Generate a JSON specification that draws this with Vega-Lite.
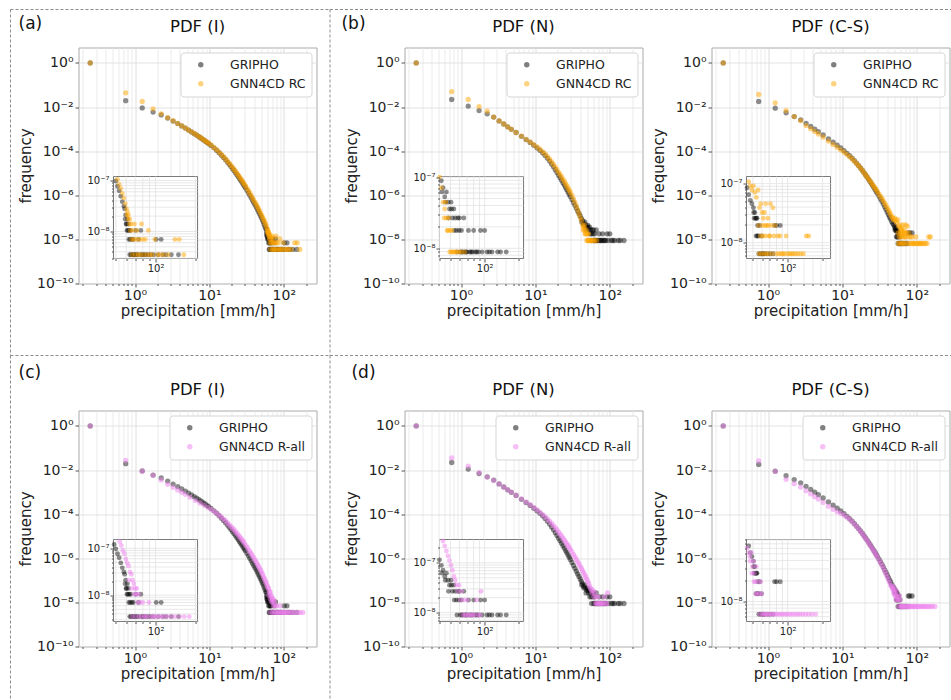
{
"$schema": "https://vega.github.io/schema/vega-lite/v6.json",
"padding": {"left": 8.5, "top": 8.5, "right": 0, "bottom": 0},
"background": "white",
"config": {
  "font": "DejaVu Sans",
  "view": {"stroke": "#aaaaaa", "strokeWidth": 1},
  "axis": {"labelFont": "DejaVu Sans", "titleFont": "DejaVu Sans", "labelColor": "#222", "titleColor": "#222", "titleFontWeight": "normal", "tickColor": "#555", "domain": false, "gridWidth": 0.8},
  "legend": {"labelFont": "DejaVu Sans", "labelFontSize": 12.5, "labelColor": "#222", "symbolType": "circle", "symbolSize": 30, "symbolOpacity": 0.5, "symbolStrokeWidth": 0, "strokeColor": "#d5d5d5", "fillColor": "white", "cornerRadius": 3, "padding": 6, "rowPadding": 6, "offset": 5, "labelOffset": 23, "symbolOffset": 8},
  "title": {"font": "DejaVu Sans", "fontSize": 16.5, "fontWeight": "normal", "color": "#111", "frame": "group"}
},
"datasets": {
"GI": [{"x":0.25,"y":1},{"x":0.75,"y":0.0195},{"x":1.25,"y":0.0091},{"x":1.75,"y":0.0059},{"x":2.25,"y":0.0044},{"x":2.75,"y":0.00316},{"x":3.25,"y":0.00232},{"x":3.75,"y":0.00177},{"x":4.25,"y":0.00139},{"x":4.75,"y":0.00111},{"x":5.25,"y":9.0e-4},{"x":5.75,"y":7.4e-4},{"x":6.25,"y":6.2e-4},{"x":6.75,"y":5.3e-4},{"x":7.25,"y":4.5e-4},{"x":7.75,"y":3.85e-4},{"x":8.25,"y":3.33e-4},{"x":8.75,"y":2.88e-4},{"x":9.25,"y":2.52e-4},{"x":9.75,"y":2.2e-4},{"x":10.5,"y":1.82e-4},{"x":11.5,"y":1.41e-4},{"x":12.5,"y":1.1e-4},{"x":13.5,"y":8.5e-5},{"x":14.5,"y":6.6e-5},{"x":15.5,"y":5.2e-5},{"x":16.5,"y":4.1e-5},{"x":17.5,"y":3.2e-5},{"x":18.5,"y":2.53e-5},{"x":19.5,"y":2.01e-5},{"x":20.5,"y":1.6e-5},{"x":21.5,"y":1.3e-5},{"x":22.5,"y":1.04e-5},{"x":23.5,"y":8.5e-6},{"x":24.5,"y":6.9e-6},{"x":25.5,"y":5.6e-6},{"x":26.5,"y":4.66e-6},{"x":27.5,"y":3.85e-6},{"x":28.5,"y":3.16e-6},{"x":29.5,"y":2.62e-6},{"x":30.5,"y":2.2e-6},{"x":32,"y":1.67e-6},{"x":33.5,"y":1.29e-6},{"x":35,"y":9.9e-7},{"x":36.5,"y":7.7e-7},{"x":38,"y":6.0e-7},{"x":39.5,"y":4.7e-7},{"x":41,"y":3.74e-7},{"x":42.5,"y":3.0e-7},{"x":44,"y":2.4e-7},{"x":45.5,"y":1.9e-7},{"x":47,"y":1.52e-7},{"x":48.5,"y":1.21e-7},{"x":50,"y":9.8e-8},{"x":51.5,"y":7.7e-8},{"x":53,"y":6.3e-8},{"x":54.5,"y":4.9e-8},{"x":56,"y":3.85e-8},{"x":57.5,"y":3.15e-8},{"x":58.25,"y":2.8e-8},{"x":58.75,"y":1.75e-8},{"x":59.25,"y":2.1e-8},{"x":59.75,"y":1.4e-8},{"x":60.25,"y":1.4e-8},{"x":60.75,"y":1.05e-8},{"x":61.25,"y":1.75e-8},{"x":61.75,"y":1.05e-8},{"x":62.25,"y":1.4e-8},{"x":62.75,"y":7e-9},{"x":63.25,"y":1.05e-8},{"x":63.75,"y":3.5e-9},{"x":64.25,"y":7e-9},{"x":64.75,"y":1.05e-8},{"x":65.25,"y":3.5e-9},{"x":66.25,"y":7e-9},{"x":66.75,"y":3.5e-9},{"x":67.75,"y":7e-9},{"x":68.25,"y":3.5e-9},{"x":69.75,"y":3.5e-9},{"x":70.75,"y":1.05e-8},{"x":71.25,"y":3.5e-9},{"x":72.75,"y":3.5e-9},{"x":74.25,"y":7e-9},{"x":75.75,"y":3.5e-9},{"x":77.25,"y":1.05e-8},{"x":78.75,"y":3.5e-9},{"x":80.25,"y":3.5e-9},{"x":82.75,"y":3.5e-9},{"x":85.25,"y":3.5e-9},{"x":88.75,"y":3.5e-9},{"x":92.25,"y":3.5e-9},{"x":96.75,"y":3.5e-9},{"x":101.25,"y":7e-9},{"x":104.75,"y":3.5e-9},{"x":110.25,"y":7e-9},{"x":113.75,"y":3.5e-9},{"x":120.25,"y":3.5e-9},{"x":131.75,"y":3.5e-9},{"x":149.25,"y":3.5e-9}],
"RCI": [{"x":0.25,"y":1},{"x":0.75,"y":0.044},{"x":1.25,"y":0.0178},{"x":1.75,"y":0.0083},{"x":2.25,"y":0.0049},{"x":2.75,"y":0.0033},{"x":3.25,"y":0.0024},{"x":3.75,"y":0.0018},{"x":4.25,"y":0.0014},{"x":4.75,"y":0.00112},{"x":5.25,"y":9.1e-4},{"x":5.75,"y":7.5e-4},{"x":6.25,"y":6.3e-4},{"x":6.75,"y":5.4e-4},{"x":7.25,"y":4.6e-4},{"x":7.75,"y":3.95e-4},{"x":8.25,"y":3.4e-4},{"x":8.75,"y":2.95e-4},{"x":9.25,"y":2.6e-4},{"x":9.75,"y":2.28e-4},{"x":10.5,"y":1.9e-4},{"x":11.5,"y":1.48e-4},{"x":12.5,"y":1.16e-4},{"x":13.5,"y":9.1e-5},{"x":14.5,"y":7.1e-5},{"x":15.5,"y":5.6e-5},{"x":16.5,"y":4.45e-5},{"x":17.5,"y":3.5e-5},{"x":18.5,"y":2.8e-5},{"x":19.5,"y":2.25e-5},{"x":20.5,"y":1.8e-5},{"x":21.5,"y":1.48e-5},{"x":22.5,"y":1.2e-5},{"x":23.5,"y":9.8e-6},{"x":24.5,"y":8.0e-6},{"x":25.5,"y":6.6e-6},{"x":26.5,"y":5.5e-6},{"x":27.5,"y":4.6e-6},{"x":28.5,"y":3.8e-6},{"x":29.5,"y":3.15e-6},{"x":30.5,"y":2.65e-6},{"x":32,"y":2.05e-6},{"x":33.5,"y":1.6e-6},{"x":35,"y":1.24e-6},{"x":36.5,"y":9.7e-7},{"x":38,"y":7.6e-7},{"x":39.5,"y":6.0e-7},{"x":41,"y":4.8e-7},{"x":42.5,"y":3.85e-7},{"x":44,"y":3.1e-7},{"x":45.5,"y":2.5e-7},{"x":47,"y":2.0e-7},{"x":48.5,"y":1.6e-7},{"x":50,"y":1.3e-7},{"x":51.5,"y":1.05e-7},{"x":53,"y":8.4e-8},{"x":54.5,"y":7e-8},{"x":56,"y":5.6e-8},{"x":57.5,"y":4.55e-8},{"x":59,"y":3.5e-8},{"x":60.25,"y":2.8e-8},{"x":60.75,"y":2.1e-8},{"x":61.25,"y":2.45e-8},{"x":61.75,"y":1.75e-8},{"x":62.25,"y":2.1e-8},{"x":63.25,"y":1.4e-8},{"x":63.75,"y":1.75e-8},{"x":64.25,"y":1.05e-8},{"x":65.25,"y":1.4e-8},{"x":65.75,"y":7e-9},{"x":66.25,"y":3.5e-9},{"x":67.25,"y":1.05e-8},{"x":68.25,"y":7e-9},{"x":69.25,"y":1.4e-8},{"x":70.25,"y":3.5e-9},{"x":71.75,"y":7e-9},{"x":72.25,"y":1.05e-8},{"x":73.75,"y":3.5e-9},{"x":75.25,"y":7e-9},{"x":76.75,"y":3.5e-9},{"x":78.25,"y":1.4e-8},{"x":79.75,"y":7e-9},{"x":81.25,"y":3.5e-9},{"x":83.75,"y":7e-9},{"x":86.25,"y":3.5e-9},{"x":88.25,"y":1.05e-8},{"x":90.75,"y":3.5e-9},{"x":94.25,"y":3.5e-9},{"x":98.75,"y":7e-9},{"x":103.25,"y":3.5e-9},{"x":108.75,"y":3.5e-9},{"x":115.25,"y":3.5e-9},{"x":124.75,"y":3.5e-9},{"x":140.25,"y":7e-9},{"x":151.25,"y":7e-9},{"x":163.75,"y":3.5e-9}],
"RAI": [{"x":0.25,"y":1},{"x":0.75,"y":0.0275},{"x":1.25,"y":0.0089},{"x":1.75,"y":0.00575},{"x":2.25,"y":0.00355},{"x":2.75,"y":0.00224},{"x":3.25,"y":0.00165},{"x":3.75,"y":0.00126},{"x":4.25,"y":9.9e-4},{"x":4.75,"y":7.9e-4},{"x":5.5,"y":5.9e-4},{"x":6.5,"y":4.2e-4},{"x":7.5,"y":3.2e-4},{"x":8.5,"y":2.5e-4},{"x":9.5,"y":2.03e-4},{"x":10.5,"y":1.66e-4},{"x":11.5,"y":1.35e-4},{"x":12.5,"y":1.11e-4},{"x":13.5,"y":9.0e-5},{"x":14.5,"y":7.3e-5},{"x":15.5,"y":6.0e-5},{"x":16.5,"y":5.0e-5},{"x":17.5,"y":4.0e-5},{"x":18.5,"y":3.3e-5},{"x":19.5,"y":2.73e-5},{"x":20.5,"y":2.27e-5},{"x":21.5,"y":1.91e-5},{"x":22.5,"y":1.58e-5},{"x":23.5,"y":1.33e-5},{"x":24.5,"y":1.12e-5},{"x":25.5,"y":9.4e-6},{"x":26.5,"y":8.0e-6},{"x":27.5,"y":6.8e-6},{"x":28.5,"y":5.75e-6},{"x":29.5,"y":4.9e-6},{"x":31,"y":3.7e-6},{"x":32.5,"y":3.0e-6},{"x":34,"y":2.26e-6},{"x":35.5,"y":1.87e-6},{"x":37,"y":1.5e-6},{"x":38.5,"y":1.18e-6},{"x":40,"y":9.6e-7},{"x":41.5,"y":7.9e-7},{"x":43,"y":6.3e-7},{"x":44.5,"y":5.2e-7},{"x":46,"y":4.2e-7},{"x":47.5,"y":3.4e-7},{"x":49,"y":2.8e-7},{"x":50.5,"y":2.25e-7},{"x":52,"y":1.8e-7},{"x":53.5,"y":1.4e-7},{"x":55,"y":1.15e-7},{"x":56.5,"y":9.1e-8},{"x":58,"y":7.7e-8},{"x":59.5,"y":5.95e-8},{"x":61,"y":4.9e-8},{"x":62.5,"y":4.2e-8},{"x":64,"y":3.15e-8},{"x":65.5,"y":2.8e-8},{"x":67,"y":2.1e-8},{"x":68.5,"y":1.75e-8},{"x":70,"y":1.4e-8},{"x":71.5,"y":1.05e-8},{"x":73,"y":7e-9},{"x":74.5,"y":1.05e-8},{"x":76,"y":7e-9},{"x":78,"y":3.5e-9},{"x":80,"y":7e-9},{"x":82,"y":3.5e-9},{"x":84,"y":3.5e-9},{"x":86.5,"y":3.5e-9},{"x":89,"y":7e-9},{"x":92,"y":3.5e-9},{"x":95,"y":3.5e-9},{"x":98,"y":3.5e-9},{"x":102,"y":3.5e-9},{"x":106,"y":3.5e-9},{"x":111,"y":3.5e-9},{"x":116,"y":3.5e-9},{"x":122,"y":3.5e-9},{"x":130,"y":3.5e-9},{"x":140,"y":3.5e-9},{"x":152,"y":3.5e-9},{"x":165,"y":3.5e-9},{"x":180,"y":3.5e-9},{"x":63,"y":2.1e-8},{"x":66,"y":1.4e-8},{"x":69,"y":1.05e-8},{"x":72,"y":1.4e-8},{"x":75,"y":3.5e-9},{"x":70.5,"y":3.5e-9},{"x":66.5,"y":3.5e-9}],
"GN": [{"x":0.25,"y":1},{"x":0.75,"y":0.022},{"x":1.25,"y":0.011},{"x":1.75,"y":0.0069},{"x":2.25,"y":0.0049},{"x":2.75,"y":0.0035},{"x":3.25,"y":0.00235},{"x":3.75,"y":0.0017},{"x":4.25,"y":0.00127},{"x":4.75,"y":9.8e-4},{"x":5.5,"y":7.0e-4},{"x":6.5,"y":4.7e-4},{"x":7.5,"y":3.36e-4},{"x":8.5,"y":2.48e-4},{"x":9.5,"y":1.86e-4},{"x":10.5,"y":1.42e-4},{"x":11.5,"y":1.09e-4},{"x":12.5,"y":8.4e-5},{"x":13.5,"y":6.4e-5},{"x":14.5,"y":4.8e-5},{"x":15.5,"y":3.56e-5},{"x":16.5,"y":2.64e-5},{"x":17.5,"y":1.94e-5},{"x":18.5,"y":1.45e-5},{"x":19.5,"y":1.08e-5},{"x":20.5,"y":8.1e-6},{"x":21.5,"y":6.3e-6},{"x":22.5,"y":4.8e-6},{"x":23.5,"y":3.7e-6},{"x":24.5,"y":2.9e-6},{"x":25.5,"y":2.24e-6},{"x":26.5,"y":1.79e-6},{"x":27.5,"y":1.42e-6},{"x":28.5,"y":1.12e-6},{"x":29.5,"y":8.9e-7},{"x":31,"y":6.5e-7},{"x":32.5,"y":4.7e-7},{"x":34,"y":3.5e-7},{"x":35.5,"y":2.6e-7},{"x":37,"y":1.95e-7},{"x":38.5,"y":1.5e-7},{"x":40,"y":1.15e-7},{"x":41.5,"y":8.9e-8},{"x":43,"y":7.1e-8},{"x":44.5,"y":5.3e-8},{"x":46,"y":6.2e-8},{"x":47.5,"y":4.45e-8},{"x":49,"y":3.56e-8},{"x":50.5,"y":4.45e-8},{"x":52,"y":2.67e-8},{"x":53.5,"y":3.56e-8},{"x":55,"y":2.67e-8},{"x":56.5,"y":1.78e-8},{"x":58,"y":2.67e-8},{"x":59.5,"y":1.78e-8},{"x":61,"y":8.9e-9},{"x":62.5,"y":1.78e-8},{"x":64,"y":8.9e-9},{"x":65.5,"y":2.67e-8},{"x":67,"y":8.9e-9},{"x":68.5,"y":8.9e-9},{"x":70,"y":8.9e-9},{"x":72,"y":1.78e-8},{"x":74,"y":8.9e-9},{"x":76,"y":8.9e-9},{"x":78,"y":8.9e-9},{"x":80,"y":1.78e-8},{"x":82.5,"y":8.9e-9},{"x":85,"y":8.9e-9},{"x":88,"y":8.9e-9},{"x":92,"y":1.78e-8},{"x":95,"y":8.9e-9},{"x":100,"y":1.78e-8},{"x":105,"y":8.9e-9},{"x":110,"y":8.9e-9},{"x":116,"y":8.9e-9},{"x":130,"y":8.9e-9},{"x":138,"y":8.9e-9},{"x":155,"y":8.9e-9},{"x":42,"y":6.2e-8},{"x":45,"y":4.45e-8},{"x":48,"y":2.67e-8},{"x":51,"y":3.56e-8},{"x":54,"y":1.78e-8},{"x":57,"y":8.9e-9},{"x":60,"y":2.67e-8},{"x":63,"y":8.9e-9}],
"RCN": [{"x":0.25,"y":1},{"x":0.75,"y":0.05},{"x":1.25,"y":0.022},{"x":1.75,"y":0.0105},{"x":2.25,"y":0.0065},{"x":2.75,"y":0.0035},{"x":3.25,"y":0.00235},{"x":3.75,"y":0.0017},{"x":4.25,"y":0.00127},{"x":4.75,"y":9.8e-4},{"x":5.5,"y":7.0e-4},{"x":6.5,"y":4.8e-4},{"x":7.5,"y":3.45e-4},{"x":8.5,"y":2.6e-4},{"x":9.5,"y":1.98e-4},{"x":10.5,"y":1.55e-4},{"x":11.5,"y":1.22e-4},{"x":12.5,"y":9.6e-5},{"x":13.5,"y":7.5e-5},{"x":14.5,"y":5.7e-5},{"x":15.5,"y":4.3e-5},{"x":16.5,"y":3.3e-5},{"x":17.5,"y":2.5e-5},{"x":18.5,"y":1.9e-5},{"x":19.5,"y":1.45e-5},{"x":20.5,"y":1.1e-5},{"x":21.5,"y":8.7e-6},{"x":22.5,"y":6.8e-6},{"x":23.5,"y":5.3e-6},{"x":24.5,"y":4.2e-6},{"x":25.5,"y":3.3e-6},{"x":26.5,"y":2.65e-6},{"x":27.5,"y":2.1e-6},{"x":28.5,"y":1.7e-6},{"x":29.5,"y":1.35e-6},{"x":31,"y":9.8e-7},{"x":32.5,"y":6.9e-7},{"x":34,"y":4.8e-7},{"x":35.5,"y":3.3e-7},{"x":37,"y":2.25e-7},{"x":38.5,"y":1.5e-7},{"x":40,"y":1.0e-7},{"x":41.5,"y":7.1e-8},{"x":43,"y":4.45e-8},{"x":44,"y":2.67e-8},{"x":44.5,"y":3.56e-8},{"x":45.5,"y":4.45e-8},{"x":46,"y":2.67e-8},{"x":46.75,"y":1.78e-8},{"x":47.5,"y":1.78e-8},{"x":48.25,"y":2.67e-8},{"x":49.25,"y":8.9e-9},{"x":49.75,"y":1.78e-8},{"x":50.75,"y":8.9e-9},{"x":51.5,"y":1.78e-8},{"x":52.25,"y":8.9e-9},{"x":53.75,"y":8.9e-9},{"x":55.25,"y":8.9e-9},{"x":57.25,"y":8.9e-9},{"x":59.75,"y":8.9e-9},{"x":62.25,"y":8.9e-9},{"x":66.75,"y":8.9e-9}],
"RAN": [{"x":0.25,"y":1},{"x":0.75,"y":0.0355},{"x":1.25,"y":0.015},{"x":1.75,"y":0.0076},{"x":2.25,"y":0.0048},{"x":2.75,"y":0.0034},{"x":3.25,"y":0.00235},{"x":3.75,"y":0.0017},{"x":4.25,"y":0.00128},{"x":4.75,"y":0.001},{"x":5.5,"y":7.2e-4},{"x":6.5,"y":4.95e-4},{"x":7.5,"y":3.6e-4},{"x":8.5,"y":2.7e-4},{"x":9.5,"y":2.04e-4},{"x":10.5,"y":1.58e-4},{"x":11.5,"y":1.23e-4},{"x":12.5,"y":9.7e-5},{"x":13.5,"y":7.7e-5},{"x":14.5,"y":6.05e-5},{"x":15.5,"y":4.8e-5},{"x":16.5,"y":3.8e-5},{"x":17.5,"y":3.0e-5},{"x":18.5,"y":2.4e-5},{"x":19.5,"y":1.92e-5},{"x":20.5,"y":1.53e-5},{"x":21.5,"y":1.24e-5},{"x":22.5,"y":1.0e-5},{"x":23.5,"y":8.1e-6},{"x":24.5,"y":6.6e-6},{"x":25.5,"y":5.4e-6},{"x":26.5,"y":4.45e-6},{"x":27.5,"y":3.7e-6},{"x":28.5,"y":3.0e-6},{"x":29.5,"y":2.5e-6},{"x":31,"y":1.92e-6},{"x":32.5,"y":1.46e-6},{"x":34,"y":1.14e-6},{"x":35.5,"y":8.9e-7},{"x":37,"y":6.9e-7},{"x":38.5,"y":5.5e-7},{"x":40,"y":4.3e-7},{"x":41.5,"y":3.45e-7},{"x":43,"y":2.75e-7},{"x":44.5,"y":2.2e-7},{"x":46,"y":1.73e-7},{"x":47.5,"y":1.38e-7},{"x":49,"y":1.11e-7},{"x":50.5,"y":8.9e-8},{"x":52,"y":7.1e-8},{"x":53.5,"y":5.3e-8},{"x":55,"y":4.45e-8},{"x":56.5,"y":3.56e-8},{"x":58,"y":2.67e-8},{"x":59.5,"y":3.56e-8},{"x":61,"y":1.78e-8},{"x":62.5,"y":2.67e-8},{"x":64,"y":8.9e-9},{"x":65.5,"y":1.78e-8},{"x":67,"y":8.9e-9},{"x":68.5,"y":8.9e-9},{"x":70,"y":1.78e-8},{"x":72,"y":8.9e-9},{"x":74,"y":8.9e-9},{"x":76.5,"y":8.9e-9},{"x":79,"y":8.9e-9},{"x":82,"y":8.9e-9},{"x":85,"y":1.78e-8},{"x":88,"y":8.9e-9},{"x":91,"y":8.9e-9},{"x":93,"y":2.67e-8}],
"GC": [{"x":0.25,"y":1},{"x":0.75,"y":0.0178},{"x":1.25,"y":0.0089},{"x":1.75,"y":0.0055},{"x":2.25,"y":0.0037},{"x":2.75,"y":0.00263},{"x":3.25,"y":0.00182},{"x":3.75,"y":0.00132},{"x":4.25,"y":9.9e-4},{"x":4.75,"y":7.6e-4},{"x":5.5,"y":5.4e-4},{"x":6.5,"y":3.6e-4},{"x":7.5,"y":2.55e-4},{"x":8.5,"y":1.87e-4},{"x":9.5,"y":1.4e-4},{"x":10.5,"y":1.06e-4},{"x":11.5,"y":8.0e-5},{"x":12.5,"y":6.2e-5},{"x":13.5,"y":4.8e-5},{"x":14.5,"y":3.7e-5},{"x":15.5,"y":2.86e-5},{"x":16.5,"y":2.23e-5},{"x":17.5,"y":1.73e-5},{"x":18.5,"y":1.36e-5},{"x":19.5,"y":1.06e-5},{"x":20.5,"y":8.3e-6},{"x":21.5,"y":6.7e-6},{"x":22.5,"y":5.3e-6},{"x":23.5,"y":4.2e-6},{"x":24.5,"y":3.4e-6},{"x":25.5,"y":2.74e-6},{"x":26.5,"y":2.24e-6},{"x":27.5,"y":1.83e-6},{"x":28.5,"y":1.49e-6},{"x":29.5,"y":1.22e-6},{"x":31,"y":9.2e-7},{"x":32.5,"y":6.9e-7},{"x":34,"y":5.3e-7},{"x":35.5,"y":4.0e-7},{"x":37,"y":3.0e-7},{"x":38.5,"y":2.3e-7},{"x":40,"y":1.76e-7},{"x":41.5,"y":1.35e-7},{"x":43,"y":1.04e-7},{"x":44.5,"y":8.5e-8},{"x":46,"y":6.5e-8},{"x":47.5,"y":5.2e-8},{"x":49,"y":4.55e-8},{"x":50.5,"y":3.9e-8},{"x":52,"y":3.25e-8},{"x":53.5,"y":2.6e-8},{"x":55,"y":1.95e-8},{"x":50.75,"y":3.25e-8},{"x":51.25,"y":2.6e-8},{"x":52.75,"y":2.6e-8},{"x":53.25,"y":1.3e-8},{"x":54.25,"y":2.6e-8},{"x":54.75,"y":1.3e-8},{"x":55.75,"y":1.3e-8},{"x":56.25,"y":6.5e-9},{"x":57.25,"y":1.95e-8},{"x":58.25,"y":6.5e-9},{"x":59.25,"y":1.3e-8},{"x":60.25,"y":6.5e-9},{"x":61.75,"y":6.5e-9},{"x":63.25,"y":6.5e-9},{"x":66.75,"y":6.5e-9},{"x":70.25,"y":6.5e-9},{"x":74.75,"y":6.5e-9},{"x":77,"y":1.95e-8},{"x":80.25,"y":1.95e-8},{"x":86.25,"y":1.95e-8}],
"RCC": [{"x":0.25,"y":1},{"x":0.75,"y":0.037},{"x":1.25,"y":0.0155},{"x":1.75,"y":0.0069},{"x":2.25,"y":0.0037},{"x":2.75,"y":0.0024},{"x":3.25,"y":0.00144},{"x":3.75,"y":0.00104},{"x":4.25,"y":7.8e-4},{"x":4.75,"y":6.0e-4},{"x":5.5,"y":4.3e-4},{"x":6.5,"y":2.85e-4},{"x":7.5,"y":2.0e-4},{"x":8.5,"y":1.5e-4},{"x":9.5,"y":1.15e-4},{"x":10.5,"y":9.0e-5},{"x":11.5,"y":7.0e-5},{"x":12.5,"y":5.6e-5},{"x":13.5,"y":4.4e-5},{"x":14.5,"y":3.5e-5},{"x":15.5,"y":2.75e-5},{"x":16.5,"y":2.19e-5},{"x":17.5,"y":1.73e-5},{"x":18.5,"y":1.36e-5},{"x":19.5,"y":1.06e-5},{"x":20.5,"y":8.3e-6},{"x":21.5,"y":6.8e-6},{"x":22.5,"y":5.5e-6},{"x":23.5,"y":4.45e-6},{"x":24.5,"y":3.7e-6},{"x":25.5,"y":3.0e-6},{"x":26.5,"y":2.5e-6},{"x":27.5,"y":2.1e-6},{"x":28.5,"y":1.76e-6},{"x":29.5,"y":1.46e-6},{"x":31,"y":1.15e-6},{"x":32.5,"y":9.0e-7},{"x":34,"y":7.2e-7},{"x":35.5,"y":5.6e-7},{"x":37,"y":4.35e-7},{"x":38.5,"y":3.45e-7},{"x":40,"y":2.7e-7},{"x":41.5,"y":2.16e-7},{"x":43,"y":1.72e-7},{"x":44.5,"y":1.36e-7},{"x":46,"y":1.08e-7},{"x":47.5,"y":9.1e-8},{"x":49,"y":7.8e-8},{"x":50.5,"y":9.1e-8},{"x":52,"y":7.15e-8},{"x":53.5,"y":5.85e-8},{"x":55.5,"y":7.8e-8},{"x":57,"y":3.9e-8},{"x":58.5,"y":4.55e-8},{"x":60,"y":3.25e-8},{"x":61.5,"y":2.6e-8},{"x":63,"y":3.25e-8},{"x":64.5,"y":4.55e-8},{"x":66,"y":1.95e-8},{"x":67.5,"y":2.6e-8},{"x":69,"y":1.3e-8},{"x":71,"y":4.55e-8},{"x":72.5,"y":1.95e-8},{"x":74.5,"y":3.9e-8},{"x":76,"y":1.3e-8},{"x":78,"y":1.95e-8},{"x":80,"y":6.5e-9},{"x":82,"y":1.3e-8},{"x":84,"y":6.5e-9},{"x":86,"y":1.3e-8},{"x":88,"y":6.5e-9},{"x":91,"y":6.5e-9},{"x":94,"y":6.5e-9},{"x":97,"y":1.3e-8},{"x":100,"y":6.5e-9},{"x":104,"y":6.5e-9},{"x":108,"y":6.5e-9},{"x":112,"y":6.5e-9},{"x":117,"y":6.5e-9},{"x":123,"y":6.5e-9},{"x":130,"y":6.5e-9},{"x":137,"y":6.5e-9},{"x":145,"y":1.3e-8},{"x":152,"y":1.3e-8},{"x":56.5,"y":6.5e-9},{"x":59.5,"y":6.5e-9},{"x":62.5,"y":6.5e-9},{"x":65.5,"y":6.5e-9},{"x":68.5,"y":6.5e-9},{"x":73.5,"y":6.5e-9},{"x":58,"y":1.3e-8},{"x":61,"y":1.3e-8},{"x":64,"y":1.3e-8},{"x":70,"y":1.3e-8},{"x":56,"y":1.95e-8},{"x":60.5,"y":1.95e-8},{"x":63.5,"y":1.95e-8},{"x":68,"y":1.95e-8}],
"RAC": [{"x":0.25,"y":1},{"x":0.75,"y":0.026},{"x":1.25,"y":0.0087},{"x":1.75,"y":0.0038},{"x":2.25,"y":0.0024},{"x":2.75,"y":0.0017},{"x":3.25,"y":0.00115},{"x":3.75,"y":8.3e-4},{"x":4.25,"y":6.2e-4},{"x":4.75,"y":4.8e-4},{"x":5.5,"y":3.4e-4},{"x":6.5,"y":2.27e-4},{"x":7.5,"y":1.66e-4},{"x":8.5,"y":1.31e-4},{"x":9.5,"y":1.09e-4},{"x":10.5,"y":9.0e-5},{"x":11.5,"y":7.2e-5},{"x":12.5,"y":5.9e-5},{"x":13.5,"y":4.55e-5},{"x":14.5,"y":3.5e-5},{"x":15.5,"y":2.72e-5},{"x":16.5,"y":2.12e-5},{"x":17.5,"y":1.64e-5},{"x":18.5,"y":1.29e-5},{"x":19.5,"y":1.0e-5},{"x":20.5,"y":7.9e-6},{"x":21.5,"y":6.4e-6},{"x":22.5,"y":5.0e-6},{"x":23.5,"y":4.0e-6},{"x":24.5,"y":3.2e-6},{"x":25.5,"y":2.6e-6},{"x":26.5,"y":2.13e-6},{"x":27.5,"y":1.74e-6},{"x":28.5,"y":1.42e-6},{"x":29.5,"y":1.16e-6},{"x":31,"y":8.3e-7},{"x":32.5,"y":6.2e-7},{"x":34,"y":4.8e-7},{"x":35.5,"y":3.5e-7},{"x":37,"y":2.6e-7},{"x":38.5,"y":1.93e-7},{"x":40,"y":1.44e-7},{"x":41.5,"y":1.08e-7},{"x":43,"y":8.1e-8},{"x":44.5,"y":6.1e-8},{"x":46,"y":5.2e-8},{"x":47.5,"y":3.9e-8},{"x":48.5,"y":5.2e-8},{"x":49.5,"y":3.25e-8},{"x":50.5,"y":3.9e-8},{"x":51.5,"y":2.6e-8},{"x":52.5,"y":1.95e-8},{"x":53.5,"y":3.25e-8},{"x":54.5,"y":1.3e-8},{"x":55.5,"y":1.95e-8},{"x":56.5,"y":1.3e-8},{"x":57.5,"y":6.5e-9},{"x":58.5,"y":1.95e-8},{"x":59.5,"y":1.3e-8},{"x":60.5,"y":6.5e-9},{"x":62,"y":6.5e-9},{"x":63.5,"y":6.5e-9},{"x":65,"y":6.5e-9},{"x":67,"y":6.5e-9},{"x":69,"y":6.5e-9},{"x":71,"y":6.5e-9},{"x":73.5,"y":6.5e-9},{"x":76,"y":6.5e-9},{"x":79,"y":6.5e-9},{"x":82,"y":6.5e-9},{"x":85,"y":6.5e-9},{"x":88.5,"y":6.5e-9},{"x":92,"y":6.5e-9},{"x":96,"y":6.5e-9},{"x":100,"y":6.5e-9},{"x":105,"y":6.5e-9},{"x":110,"y":6.5e-9},{"x":116,"y":6.5e-9},{"x":122,"y":6.5e-9},{"x":128,"y":6.5e-9},{"x":135,"y":6.5e-9},{"x":143,"y":6.5e-9},{"x":152,"y":6.5e-9},{"x":162,"y":6.5e-9},{"x":175,"y":6.5e-9},{"x":47,"y":4.55e-8},{"x":49,"y":2.6e-8},{"x":51,"y":1.95e-8},{"x":53,"y":1.3e-8}],
"igx": [{"v":40},{"v":50},{"v":60},{"v":70},{"v":80},{"v":90},{"v":100},{"v":200}],
"igy": [{"v":3e-9},{"v":4e-9},{"v":5e-9},{"v":6e-9},{"v":7e-9},{"v":8e-9},{"v":9e-9},{"v":1e-8},{"v":2e-8},{"v":3e-8},{"v":4e-8},{"v":5e-8},{"v":6e-8},{"v":7e-8},{"v":8e-8},{"v":9e-8},{"v":1e-7},{"v":2e-7}]
},
"bounds": "flush",
"spacing": 363,
"resolve": {"scale": {"x": "independent", "y": "independent", "color": "independent"}, "axis": {"x": "independent", "y": "independent"}, "legend": {"color": "independent"}},
"vconcat": [
{"hconcat": [
{"width": 238, "height": 236, "title": {"text": "PDF (I)", "offset": -26},
 "resolve": {"scale": {"x": "independent", "y": "independent"}, "axis": {"x": "independent", "y": "independent"}},
 "layer": [
  {"layer": [
    {"data": {"name": "GI"}, "mark": {"type": "circle", "size": 28, "opacity": 0.45}, "encoding": {
      "x": {"field": "x", "type": "quantitative", "scale": {"type": "log", "domain": [0.174, 275], "nice": false}, "axis": {"orient": "bottom", "values": [0.2,0.3,0.4,0.5,0.6,0.7,0.8,0.9,1,2,3,4,5,6,7,8,9,10,20,30,40,50,60,70,80,90,100,200], "labelExpr": "datum.value == 1 ? '10⁰' : datum.value == 10 ? '10¹' : datum.value == 100 ? '10²' : ''", "labelFontSize": 14, "labelOverlap": false, "labelFlush": false, "labelPadding": 1, "tickSize": {"condition": {"test": "datum.value == 1 || datum.value == 10 || datum.value == 100", "value": 3.5}, "value": 2}, "gridColor": {"condition": {"test": "datum.value == 1 || datum.value == 10 || datum.value == 100", "value": "#d4d4d4"}, "value": "#e6e6e6"}, "title": "precipitation [mm/h]", "titleFontSize": 15, "titlePadding": 1}},
      "y": {"field": "y", "type": "quantitative", "scale": {"type": "log", "domain": [1e-10, 5], "nice": false}, "axis": {"orient": "left", "values": [1,0.01,0.0001,1e-6,1e-8,1e-10], "labelExpr": "datum.value > 0.5 ? '10⁰' : datum.value > 0.005 ? '10⁻²' : datum.value > 5e-5 ? '10⁻⁴' : datum.value > 5e-7 ? '10⁻⁶' : datum.value > 5e-9 ? '10⁻⁸' : '10⁻¹⁰'", "labelFontSize": 14, "labelOverlap": false, "labelFlush": false, "labelPadding": 2, "tickSize": 3.5, "gridColor": "#dcdcdc", "title": "frequency", "titleFontSize": 15, "titlePadding": 3}},
      "color": {"datum": "GRIPHO", "type": "nominal", "scale": {"domain": ["GRIPHO", "GNN4CD RC"], "range": ["black", "orange"]}, "legend": {"orient": "top-right", "title": null}}}},
    {"data": {"name": "RCI"}, "mark": {"type": "circle", "size": 28, "opacity": 0.5}, "encoding": {"x": {"field": "x", "type": "quantitative", "scale": {"type": "log"}}, "y": {"field": "y", "type": "quantitative", "scale": {"type": "log"}}, "color": {"datum": "GNN4CD RC", "type": "nominal", "scale": {"domain": ["GRIPHO", "GNN4CD RC"], "range": ["black", "orange"]}, "legend": {"orient": "top-right", "title": null}}}},
    {"data": {"values": [{}]}, "mark": {"type": "rule", "color": "#8c8c8c", "strokeDash": [3, 2], "strokeWidth": 1}, "encoding": {"x": {"datum": 0.0212, "type": "quantitative", "scale": {"type": "log"}}, "x2": {"datum": 417.8}, "y": {"datum": 264, "type": "quantitative", "scale": {"type": "log"}}}},
    {"data": {"values": [{}]}, "mark": {"type": "rule", "color": "#8c8c8c", "strokeDash": [3, 2], "strokeWidth": 1}, "encoding": {"x": {"datum": 0.0212, "type": "quantitative", "scale": {"type": "log"}}, "y": {"datum": 264, "type": "quantitative", "scale": {"type": "log"}}, "y2": {"datum": 5.45e-14}}},
    {"data": {"values": [{}]}, "mark": {"type": "rule", "color": "#8c8c8c", "strokeDash": [3, 2], "strokeWidth": 1}, "encoding": {"x": {"datum": 417.8, "type": "quantitative", "scale": {"type": "log"}}, "y": {"datum": 264, "type": "quantitative", "scale": {"type": "log"}}, "y2": {"datum": 5.45e-14}}},
    {"data": {"values": [{}]}, "mark": {"type": "text", "text": "(a)", "fontSize": 17, "align": "left", "baseline": "middle", "color": "#111"}, "encoding": {"x": {"datum": 0.0272, "type": "quantitative", "scale": {"type": "log"}}, "y": {"datum": 55.2, "type": "quantitative", "scale": {"type": "log"}}}}
  ]},
  {"layer": [
    {"data": {"values": [{}]}, "mark": {"type": "rect", "fill": "white", "stroke": "#7a7a7a", "strokeWidth": 1}, "encoding": {
      "x": {"datum": 48, "type": "quantitative", "scale": {"type": "log", "domain": [48, 208], "range": [35, 119], "nice": false}, "axis": {"orient": "bottom", "offset": -25, "values": [50,60,70,80,90,100,200], "labelExpr": "datum.value == 100 ? '10²' : ''", "labelFontSize": 10, "labelOverlap": false, "labelFlush": false, "labelPadding": 1, "tickSize": {"condition": {"test": "datum.value == 100", "value": 3.5}, "value": 2}, "grid": false, "title": null, "zindex": 1}},
      "x2": {"datum": 208},
      "y": {"datum": 2.95e-9, "type": "quantitative", "scale": {"type": "log", "domain": [2.95e-9, 1.2e-7], "range": [211, 129], "nice": false}, "axis": {"orient": "left", "offset": -35, "values": [3e-9,4e-9,5e-9,6e-9,7e-9,8e-9,9e-9,1e-8,2e-8,3e-8,4e-8,5e-8,6e-8,7e-8,8e-8,9e-8,1e-7], "labelExpr": "datum.value == 1e-7 ? '10⁻⁷' : datum.value == 1e-8 ? '10⁻⁸' : ''", "labelFontSize": 10, "labelOverlap": false, "labelFlush": false, "labelPadding": 1, "tickSize": {"condition": {"test": "datum.value == 1e-7 || datum.value == 1e-8", "value": 3.5}, "value": 2}, "grid": false, "title": null, "zindex": 1}},
      "y2": {"datum": 1.2e-7}}},
    {"data": {"name": "igx"}, "transform": [{"filter": {"field": "v", "range": [48, 208]}}], "mark": {"type": "rule", "color": "#e2e2e2", "strokeWidth": 0.8}, "encoding": {"x": {"field": "v", "type": "quantitative", "scale": {"type": "log"}}, "y": {"datum": 2.95e-9, "type": "quantitative", "scale": {"type": "log"}}, "y2": {"datum": 1.2e-7}}},
    {"data": {"name": "igy"}, "transform": [{"filter": {"field": "v", "range": [2.95e-9, 1.2e-7]}}], "mark": {"type": "rule", "color": "#e2e2e2", "strokeWidth": 0.8}, "encoding": {"y": {"field": "v", "type": "quantitative", "scale": {"type": "log"}}, "x": {"datum": 48, "type": "quantitative", "scale": {"type": "log"}}, "x2": {"datum": 208}}},
    {"data": {"name": "GI"}, "transform": [{"filter": {"and": [{"field": "x", "range": [48, 208]}, {"field": "y", "range": [2.95e-9, 1.2e-7]}]}}], "mark": {"type": "circle", "size": 24, "color": "black", "opacity": 0.45}, "encoding": {"x": {"field": "x", "type": "quantitative", "scale": {"type": "log"}}, "y": {"field": "y", "type": "quantitative", "scale": {"type": "log"}}}},
    {"data": {"name": "RCI"}, "transform": [{"filter": {"and": [{"field": "x", "range": [48, 208]}, {"field": "y", "range": [2.95e-9, 1.2e-7]}]}}], "mark": {"type": "circle", "size": 24, "color": "orange", "opacity": 0.5}, "encoding": {"x": {"field": "x", "type": "quantitative", "scale": {"type": "log"}}, "y": {"field": "y", "type": "quantitative", "scale": {"type": "log"}}}}
  ]}
 ]},
{"hconcat": [
{"width": 238, "height": 236, "title": {"text": "PDF (N)", "offset": -26},
 "resolve": {"scale": {"x": "independent", "y": "independent"}, "axis": {"x": "independent", "y": "independent"}},
 "layer": [
  {"layer": [
    {"data": {"name": "GN"}, "mark": {"type": "circle", "size": 28, "opacity": 0.45}, "encoding": {
      "x": {"field": "x", "type": "quantitative", "scale": {"type": "log", "domain": [0.174, 275], "nice": false}, "axis": {"orient": "bottom", "values": [0.2,0.3,0.4,0.5,0.6,0.7,0.8,0.9,1,2,3,4,5,6,7,8,9,10,20,30,40,50,60,70,80,90,100,200], "labelExpr": "datum.value == 1 ? '10⁰' : datum.value == 10 ? '10¹' : datum.value == 100 ? '10²' : ''", "labelFontSize": 14, "labelOverlap": false, "labelFlush": false, "labelPadding": 1, "tickSize": {"condition": {"test": "datum.value == 1 || datum.value == 10 || datum.value == 100", "value": 3.5}, "value": 2}, "gridColor": {"condition": {"test": "datum.value == 1 || datum.value == 10 || datum.value == 100", "value": "#d4d4d4"}, "value": "#e6e6e6"}, "title": "precipitation [mm/h]", "titleFontSize": 15, "titlePadding": 1}},
      "y": {"field": "y", "type": "quantitative", "scale": {"type": "log", "domain": [1e-10, 5], "nice": false}, "axis": {"orient": "left", "values": [1,0.01,0.0001,1e-6,1e-8,1e-10], "labelExpr": "datum.value > 0.5 ? '10⁰' : datum.value > 0.005 ? '10⁻²' : datum.value > 5e-5 ? '10⁻⁴' : datum.value > 5e-7 ? '10⁻⁶' : datum.value > 5e-9 ? '10⁻⁸' : '10⁻¹⁰'", "labelFontSize": 14, "labelOverlap": false, "labelFlush": false, "labelPadding": 2, "tickSize": 3.5, "gridColor": "#dcdcdc", "title": "frequency", "titleFontSize": 15, "titlePadding": 3}},
      "color": {"datum": "GRIPHO", "type": "nominal", "scale": {"domain": ["GRIPHO", "GNN4CD RC"], "range": ["black", "orange"]}, "legend": {"orient": "top-right", "title": null}}}},
    {"data": {"name": "RCN"}, "mark": {"type": "circle", "size": 28, "opacity": 0.5}, "encoding": {"x": {"field": "x", "type": "quantitative", "scale": {"type": "log"}}, "y": {"field": "y", "type": "quantitative", "scale": {"type": "log"}}, "color": {"datum": "GNN4CD RC", "type": "nominal", "scale": {"domain": ["GRIPHO", "GNN4CD RC"], "range": ["black", "orange"]}, "legend": {"orient": "top-right", "title": null}}}},
    {"data": {"values": [{}]}, "mark": {"type": "rule", "color": "#8c8c8c", "strokeDash": [3, 2], "strokeWidth": 1}, "encoding": {"x": {"datum": 0.01734, "type": "quantitative", "scale": {"type": "log"}}, "x2": {"datum": 4040000}, "y": {"datum": 264, "type": "quantitative", "scale": {"type": "log"}}}},
    {"data": {"values": [{}]}, "mark": {"type": "text", "text": "(b)", "fontSize": 17, "align": "left", "baseline": "middle", "color": "#111"}, "encoding": {"x": {"datum": 0.02475, "type": "quantitative", "scale": {"type": "log"}}, "y": {"datum": 55.2, "type": "quantitative", "scale": {"type": "log"}}}}
  ]},
  {"layer": [
    {"data": {"values": [{}]}, "mark": {"type": "rect", "fill": "white", "stroke": "#7a7a7a", "strokeWidth": 1}, "encoding": {
      "x": {"datum": 40, "type": "quantitative", "scale": {"type": "log", "domain": [40, 220], "range": [35, 119], "nice": false}, "axis": {"orient": "bottom", "offset": -25, "values": [40,50,60,70,80,90,100,200], "labelExpr": "datum.value == 100 ? '10²' : ''", "labelFontSize": 10, "labelOverlap": false, "labelFlush": false, "labelPadding": 1, "tickSize": {"condition": {"test": "datum.value == 100", "value": 3.5}, "value": 2}, "grid": false, "title": null, "zindex": 1}},
      "x2": {"datum": 220},
      "y": {"datum": 7.2e-9, "type": "quantitative", "scale": {"type": "log", "domain": [7.2e-9, 1.02e-7], "range": [211, 129], "nice": false}, "axis": {"orient": "left", "offset": -35, "values": [8e-9,9e-9,1e-8,2e-8,3e-8,4e-8,5e-8,6e-8,7e-8,8e-8,9e-8,1e-7], "labelExpr": "datum.value == 1e-7 ? '10⁻⁷' : datum.value == 1e-8 ? '10⁻⁸' : ''", "labelFontSize": 10, "labelOverlap": false, "labelFlush": false, "labelPadding": 1, "tickSize": {"condition": {"test": "datum.value == 1e-7 || datum.value == 1e-8", "value": 3.5}, "value": 2}, "grid": false, "title": null, "zindex": 1}},
      "y2": {"datum": 1.02e-7}}},
    {"data": {"name": "igx"}, "transform": [{"filter": {"field": "v", "range": [40, 220]}}], "mark": {"type": "rule", "color": "#e2e2e2", "strokeWidth": 0.8}, "encoding": {"x": {"field": "v", "type": "quantitative", "scale": {"type": "log"}}, "y": {"datum": 7.2e-9, "type": "quantitative", "scale": {"type": "log"}}, "y2": {"datum": 1.02e-7}}},
    {"data": {"name": "igy"}, "transform": [{"filter": {"field": "v", "range": [7.2e-9, 1.02e-7]}}], "mark": {"type": "rule", "color": "#e2e2e2", "strokeWidth": 0.8}, "encoding": {"y": {"field": "v", "type": "quantitative", "scale": {"type": "log"}}, "x": {"datum": 40, "type": "quantitative", "scale": {"type": "log"}}, "x2": {"datum": 220}}},
    {"data": {"name": "GN"}, "transform": [{"filter": {"and": [{"field": "x", "range": [40, 220]}, {"field": "y", "range": [7.2e-9, 1.02e-7]}]}}], "mark": {"type": "circle", "size": 24, "color": "black", "opacity": 0.45}, "encoding": {"x": {"field": "x", "type": "quantitative", "scale": {"type": "log"}}, "y": {"field": "y", "type": "quantitative", "scale": {"type": "log"}}}},
    {"data": {"name": "RCN"}, "transform": [{"filter": {"and": [{"field": "x", "range": [40, 220]}, {"field": "y", "range": [7.2e-9, 1.02e-7]}]}}], "mark": {"type": "circle", "size": 24, "color": "orange", "opacity": 0.5}, "encoding": {"x": {"field": "x", "type": "quantitative", "scale": {"type": "log"}}, "y": {"field": "y", "type": "quantitative", "scale": {"type": "log"}}}}
  ]}
 ]},
{"width": 238, "height": 236, "title": {"text": "PDF (C-S)", "offset": 12},
 "resolve": {"scale": {"x": "independent", "y": "independent"}, "axis": {"x": "independent", "y": "independent"}},
 "layer": [
  {"layer": [
    {"data": {"name": "GC"}, "mark": {"type": "circle", "size": 28, "opacity": 0.45}, "encoding": {
      "x": {"field": "x", "type": "quantitative", "scale": {"type": "log", "domain": [0.174, 275], "nice": false}, "axis": {"orient": "bottom", "values": [0.2,0.3,0.4,0.5,0.6,0.7,0.8,0.9,1,2,3,4,5,6,7,8,9,10,20,30,40,50,60,70,80,90,100,200], "labelExpr": "datum.value == 1 ? '10⁰' : datum.value == 10 ? '10¹' : datum.value == 100 ? '10²' : ''", "labelFontSize": 14, "labelOverlap": false, "labelFlush": false, "labelPadding": 1, "tickSize": {"condition": {"test": "datum.value == 1 || datum.value == 10 || datum.value == 100", "value": 3.5}, "value": 2}, "gridColor": {"condition": {"test": "datum.value == 1 || datum.value == 10 || datum.value == 100", "value": "#d4d4d4"}, "value": "#e6e6e6"}, "title": "precipitation [mm/h]", "titleFontSize": 15, "titlePadding": 1}},
      "y": {"field": "y", "type": "quantitative", "scale": {"type": "log", "domain": [1e-10, 5], "nice": false}, "axis": {"orient": "left", "values": [1,0.01,0.0001,1e-6,1e-8,1e-10], "labelExpr": "datum.value > 0.5 ? '10⁰' : datum.value > 0.005 ? '10⁻²' : datum.value > 5e-5 ? '10⁻⁴' : datum.value > 5e-7 ? '10⁻⁶' : datum.value > 5e-9 ? '10⁻⁸' : '10⁻¹⁰'", "labelFontSize": 14, "labelOverlap": false, "labelFlush": false, "labelPadding": 2, "tickSize": 3.5, "gridColor": "#dcdcdc", "title": "frequency", "titleFontSize": 15, "titlePadding": 3}},
      "color": {"datum": "GRIPHO", "type": "nominal", "scale": {"domain": ["GRIPHO", "GNN4CD RC"], "range": ["black", "orange"]}, "legend": {"orient": "top-right", "title": null}}}},
    {"data": {"name": "RCC"}, "mark": {"type": "circle", "size": 28, "opacity": 0.5}, "encoding": {"x": {"field": "x", "type": "quantitative", "scale": {"type": "log"}}, "y": {"field": "y", "type": "quantitative", "scale": {"type": "log"}}, "color": {"datum": "GNN4CD RC", "type": "nominal", "scale": {"domain": ["GRIPHO", "GNN4CD RC"], "range": ["black", "orange"]}, "legend": {"orient": "top-right", "title": null}}}}
  ]},
  {"layer": [
    {"data": {"values": [{}]}, "mark": {"type": "rect", "fill": "white", "stroke": "#7a7a7a", "strokeWidth": 1}, "encoding": {
      "x": {"datum": 44, "type": "quantitative", "scale": {"type": "log", "domain": [44, 235], "range": [35, 119], "nice": false}, "axis": {"orient": "bottom", "offset": -25, "values": [50,60,70,80,90,100,200], "labelExpr": "datum.value == 100 ? '10²' : ''", "labelFontSize": 10, "labelOverlap": false, "labelFlush": false, "labelPadding": 1, "tickSize": {"condition": {"test": "datum.value == 100", "value": 3.5}, "value": 2}, "grid": false, "title": null, "zindex": 1}},
      "x2": {"datum": 235},
      "y": {"datum": 5.4e-9, "type": "quantitative", "scale": {"type": "log", "domain": [5.4e-9, 1.32e-7], "range": [211, 129], "nice": false}, "axis": {"orient": "left", "offset": -35, "values": [6e-9,7e-9,8e-9,9e-9,1e-8,2e-8,3e-8,4e-8,5e-8,6e-8,7e-8,8e-8,9e-8,1e-7], "labelExpr": "datum.value == 1e-7 ? '10⁻⁷' : datum.value == 1e-8 ? '10⁻⁸' : ''", "labelFontSize": 10, "labelOverlap": false, "labelFlush": false, "labelPadding": 1, "tickSize": {"condition": {"test": "datum.value == 1e-7 || datum.value == 1e-8", "value": 3.5}, "value": 2}, "grid": false, "title": null, "zindex": 1}},
      "y2": {"datum": 1.32e-7}}},
    {"data": {"name": "igx"}, "transform": [{"filter": {"field": "v", "range": [44, 235]}}], "mark": {"type": "rule", "color": "#e2e2e2", "strokeWidth": 0.8}, "encoding": {"x": {"field": "v", "type": "quantitative", "scale": {"type": "log"}}, "y": {"datum": 5.4e-9, "type": "quantitative", "scale": {"type": "log"}}, "y2": {"datum": 1.32e-7}}},
    {"data": {"name": "igy"}, "transform": [{"filter": {"field": "v", "range": [5.4e-9, 1.32e-7]}}], "mark": {"type": "rule", "color": "#e2e2e2", "strokeWidth": 0.8}, "encoding": {"y": {"field": "v", "type": "quantitative", "scale": {"type": "log"}}, "x": {"datum": 44, "type": "quantitative", "scale": {"type": "log"}}, "x2": {"datum": 235}}},
    {"data": {"name": "GC"}, "transform": [{"filter": {"and": [{"field": "x", "range": [44, 235]}, {"field": "y", "range": [5.4e-9, 1.32e-7]}]}}], "mark": {"type": "circle", "size": 24, "color": "black", "opacity": 0.45}, "encoding": {"x": {"field": "x", "type": "quantitative", "scale": {"type": "log"}}, "y": {"field": "y", "type": "quantitative", "scale": {"type": "log"}}}},
    {"data": {"name": "RCC"}, "transform": [{"filter": {"and": [{"field": "x", "range": [44, 235]}, {"field": "y", "range": [5.4e-9, 1.32e-7]}]}}], "mark": {"type": "circle", "size": 24, "color": "orange", "opacity": 0.5}, "encoding": {"x": {"field": "x", "type": "quantitative", "scale": {"type": "log"}}, "y": {"field": "y", "type": "quantitative", "scale": {"type": "log"}}}}
  ]}
 ]}
], "spacing": 69, "bounds": "flush", "resolve": {"scale": {"x": "independent", "y": "independent", "color": "independent"}, "axis": {"x": "independent", "y": "independent"}, "legend": {"color": "independent"}}}
], "spacing": 88, "bounds": "flush", "resolve": {"scale": {"x": "independent", "y": "independent", "color": "independent"}, "axis": {"x": "independent", "y": "independent"}, "legend": {"color": "independent"}}},
{"hconcat": [
{"width": 238, "height": 236, "title": {"text": "PDF (I)", "offset": -43},
 "resolve": {"scale": {"x": "independent", "y": "independent"}, "axis": {"x": "independent", "y": "independent"}},
 "layer": [
  {"layer": [
    {"data": {"name": "GI"}, "mark": {"type": "circle", "size": 28, "opacity": 0.45}, "encoding": {
      "x": {"field": "x", "type": "quantitative", "scale": {"type": "log", "domain": [0.174, 275], "nice": false}, "axis": {"orient": "bottom", "values": [0.2,0.3,0.4,0.5,0.6,0.7,0.8,0.9,1,2,3,4,5,6,7,8,9,10,20,30,40,50,60,70,80,90,100,200], "labelExpr": "datum.value == 1 ? '10⁰' : datum.value == 10 ? '10¹' : datum.value == 100 ? '10²' : ''", "labelFontSize": 14, "labelOverlap": false, "labelFlush": false, "labelPadding": 1, "tickSize": {"condition": {"test": "datum.value == 1 || datum.value == 10 || datum.value == 100", "value": 3.5}, "value": 2}, "gridColor": {"condition": {"test": "datum.value == 1 || datum.value == 10 || datum.value == 100", "value": "#d4d4d4"}, "value": "#e6e6e6"}, "title": "precipitation [mm/h]", "titleFontSize": 15, "titlePadding": 1}},
      "y": {"field": "y", "type": "quantitative", "scale": {"type": "log", "domain": [1e-10, 5], "nice": false}, "axis": {"orient": "left", "values": [1,0.01,0.0001,1e-6,1e-8,1e-10], "labelExpr": "datum.value > 0.5 ? '10⁰' : datum.value > 0.005 ? '10⁻²' : datum.value > 5e-5 ? '10⁻⁴' : datum.value > 5e-7 ? '10⁻⁶' : datum.value > 5e-9 ? '10⁻⁸' : '10⁻¹⁰'", "labelFontSize": 14, "labelOverlap": false, "labelFlush": false, "labelPadding": 2, "tickSize": 3.5, "gridColor": "#dcdcdc", "title": "frequency", "titleFontSize": 15, "titlePadding": 3}},
      "color": {"datum": "GRIPHO", "type": "nominal", "scale": {"domain": ["GRIPHO", "GNN4CD R-all"], "range": ["black", "violet"]}, "legend": {"orient": "top-right", "title": null}}}},
    {"data": {"name": "RAI"}, "mark": {"type": "circle", "size": 28, "opacity": 0.5}, "encoding": {"x": {"field": "x", "type": "quantitative", "scale": {"type": "log"}}, "y": {"field": "y", "type": "quantitative", "scale": {"type": "log"}}, "color": {"datum": "GNN4CD R-all", "type": "nominal", "scale": {"domain": ["GRIPHO", "GNN4CD R-all"], "range": ["black", "violet"]}, "legend": {"orient": "top-right", "title": null}}}},
    {"data": {"values": [{}]}, "mark": {"type": "rule", "color": "#8c8c8c", "strokeDash": [3, 2], "strokeWidth": 1}, "encoding": {"x": {"datum": 0.0212, "type": "quantitative", "scale": {"type": "log"}}, "x2": {"datum": 417.8}, "y": {"datum": 1556, "type": "quantitative", "scale": {"type": "log"}}}},
    {"data": {"values": [{}]}, "mark": {"type": "rule", "color": "#8c8c8c", "strokeDash": [3, 2], "strokeWidth": 1}, "encoding": {"x": {"datum": 0.0212, "type": "quantitative", "scale": {"type": "log"}}, "y": {"datum": 1556, "type": "quantitative", "scale": {"type": "log"}}, "y2": {"datum": 1.26e-13}}},
    {"data": {"values": [{}]}, "mark": {"type": "rule", "color": "#8c8c8c", "strokeDash": [3, 2], "strokeWidth": 1}, "encoding": {"x": {"datum": 417.8, "type": "quantitative", "scale": {"type": "log"}}, "y": {"datum": 1556, "type": "quantitative", "scale": {"type": "log"}}, "y2": {"datum": 1.26e-13}}},
    {"data": {"values": [{}]}, "mark": {"type": "text", "text": "(c)", "fontSize": 17, "align": "left", "baseline": "middle", "color": "#111"}, "encoding": {"x": {"datum": 0.0272, "type": "quantitative", "scale": {"type": "log"}}, "y": {"datum": 238, "type": "quantitative", "scale": {"type": "log"}}}}
  ]},
  {"layer": [
    {"data": {"values": [{}]}, "mark": {"type": "rect", "fill": "white", "stroke": "#7a7a7a", "strokeWidth": 1}, "encoding": {
      "x": {"datum": 48, "type": "quantitative", "scale": {"type": "log", "domain": [48, 208], "range": [35, 119], "nice": false}, "axis": {"orient": "bottom", "offset": -25, "values": [50,60,70,80,90,100,200], "labelExpr": "datum.value == 100 ? '10²' : ''", "labelFontSize": 10, "labelOverlap": false, "labelFlush": false, "labelPadding": 1, "tickSize": {"condition": {"test": "datum.value == 100", "value": 3.5}, "value": 2}, "grid": false, "title": null, "zindex": 1}},
      "x2": {"datum": 208},
      "y": {"datum": 2.75e-9, "type": "quantitative", "scale": {"type": "log", "domain": [2.75e-9, 1.55e-7], "range": [211, 129], "nice": false}, "axis": {"orient": "left", "offset": -35, "values": [3e-9,4e-9,5e-9,6e-9,7e-9,8e-9,9e-9,1e-8,2e-8,3e-8,4e-8,5e-8,6e-8,7e-8,8e-8,9e-8,1e-7], "labelExpr": "datum.value == 1e-7 ? '10⁻⁷' : datum.value == 1e-8 ? '10⁻⁸' : ''", "labelFontSize": 10, "labelOverlap": false, "labelFlush": false, "labelPadding": 1, "tickSize": {"condition": {"test": "datum.value == 1e-7 || datum.value == 1e-8", "value": 3.5}, "value": 2}, "grid": false, "title": null, "zindex": 1}},
      "y2": {"datum": 1.55e-7}}},
    {"data": {"name": "igx"}, "transform": [{"filter": {"field": "v", "range": [48, 208]}}], "mark": {"type": "rule", "color": "#e2e2e2", "strokeWidth": 0.8}, "encoding": {"x": {"field": "v", "type": "quantitative", "scale": {"type": "log"}}, "y": {"datum": 2.75e-9, "type": "quantitative", "scale": {"type": "log"}}, "y2": {"datum": 1.55e-7}}},
    {"data": {"name": "igy"}, "transform": [{"filter": {"field": "v", "range": [2.75e-9, 1.55e-7]}}], "mark": {"type": "rule", "color": "#e2e2e2", "strokeWidth": 0.8}, "encoding": {"y": {"field": "v", "type": "quantitative", "scale": {"type": "log"}}, "x": {"datum": 48, "type": "quantitative", "scale": {"type": "log"}}, "x2": {"datum": 208}}},
    {"data": {"name": "GI"}, "transform": [{"filter": {"and": [{"field": "x", "range": [48, 208]}, {"field": "y", "range": [2.75e-9, 1.55e-7]}]}}], "mark": {"type": "circle", "size": 24, "color": "black", "opacity": 0.45}, "encoding": {"x": {"field": "x", "type": "quantitative", "scale": {"type": "log"}}, "y": {"field": "y", "type": "quantitative", "scale": {"type": "log"}}}},
    {"data": {"name": "RAI"}, "transform": [{"filter": {"and": [{"field": "x", "range": [48, 208]}, {"field": "y", "range": [2.75e-9, 1.55e-7]}]}}], "mark": {"type": "circle", "size": 24, "color": "violet", "opacity": 0.5}, "encoding": {"x": {"field": "x", "type": "quantitative", "scale": {"type": "log"}}, "y": {"field": "y", "type": "quantitative", "scale": {"type": "log"}}}}
  ]}
 ]},
{"hconcat": [
{"width": 238, "height": 236, "title": {"text": "PDF (N)", "offset": -43},
 "resolve": {"scale": {"x": "independent", "y": "independent"}, "axis": {"x": "independent", "y": "independent"}},
 "layer": [
  {"layer": [
    {"data": {"name": "GN"}, "mark": {"type": "circle", "size": 28, "opacity": 0.45}, "encoding": {
      "x": {"field": "x", "type": "quantitative", "scale": {"type": "log", "domain": [0.174, 275], "nice": false}, "axis": {"orient": "bottom", "values": [0.2,0.3,0.4,0.5,0.6,0.7,0.8,0.9,1,2,3,4,5,6,7,8,9,10,20,30,40,50,60,70,80,90,100,200], "labelExpr": "datum.value == 1 ? '10⁰' : datum.value == 10 ? '10¹' : datum.value == 100 ? '10²' : ''", "labelFontSize": 14, "labelOverlap": false, "labelFlush": false, "labelPadding": 1, "tickSize": {"condition": {"test": "datum.value == 1 || datum.value == 10 || datum.value == 100", "value": 3.5}, "value": 2}, "gridColor": {"condition": {"test": "datum.value == 1 || datum.value == 10 || datum.value == 100", "value": "#d4d4d4"}, "value": "#e6e6e6"}, "title": "precipitation [mm/h]", "titleFontSize": 15, "titlePadding": 1}},
      "y": {"field": "y", "type": "quantitative", "scale": {"type": "log", "domain": [1e-10, 5], "nice": false}, "axis": {"orient": "left", "values": [1,0.01,0.0001,1e-6,1e-8,1e-10], "labelExpr": "datum.value > 0.5 ? '10⁰' : datum.value > 0.005 ? '10⁻²' : datum.value > 5e-5 ? '10⁻⁴' : datum.value > 5e-7 ? '10⁻⁶' : datum.value > 5e-9 ? '10⁻⁸' : '10⁻¹⁰'", "labelFontSize": 14, "labelOverlap": false, "labelFlush": false, "labelPadding": 2, "tickSize": 3.5, "gridColor": "#dcdcdc", "title": "frequency", "titleFontSize": 15, "titlePadding": 3}},
      "color": {"datum": "GRIPHO", "type": "nominal", "scale": {"domain": ["GRIPHO", "GNN4CD R-all"], "range": ["black", "violet"]}, "legend": {"orient": "top-right", "title": null}}}},
    {"data": {"name": "RAN"}, "mark": {"type": "circle", "size": 28, "opacity": 0.5}, "encoding": {"x": {"field": "x", "type": "quantitative", "scale": {"type": "log"}}, "y": {"field": "y", "type": "quantitative", "scale": {"type": "log"}}, "color": {"datum": "GNN4CD R-all", "type": "nominal", "scale": {"domain": ["GRIPHO", "GNN4CD R-all"], "range": ["black", "violet"]}, "legend": {"orient": "top-right", "title": null}}}},
    {"data": {"values": [{}]}, "mark": {"type": "rule", "color": "#8c8c8c", "strokeDash": [3, 2], "strokeWidth": 1}, "encoding": {"x": {"datum": 0.01734, "type": "quantitative", "scale": {"type": "log"}}, "x2": {"datum": 4040000}, "y": {"datum": 1556, "type": "quantitative", "scale": {"type": "log"}}}},
    {"data": {"values": [{}]}, "mark": {"type": "text", "text": "(d)", "fontSize": 17, "align": "left", "baseline": "middle", "color": "#111"}, "encoding": {"x": {"datum": 0.03373, "type": "quantitative", "scale": {"type": "log"}}, "y": {"datum": 238, "type": "quantitative", "scale": {"type": "log"}}}}
  ]},
  {"layer": [
    {"data": {"values": [{}]}, "mark": {"type": "rect", "fill": "white", "stroke": "#7a7a7a", "strokeWidth": 1}, "encoding": {
      "x": {"datum": 40, "type": "quantitative", "scale": {"type": "log", "domain": [40, 220], "range": [35, 119], "nice": false}, "axis": {"orient": "bottom", "offset": -25, "values": [40,50,60,70,80,90,100,200], "labelExpr": "datum.value == 100 ? '10²' : ''", "labelFontSize": 10, "labelOverlap": false, "labelFlush": false, "labelPadding": 1, "tickSize": {"condition": {"test": "datum.value == 100", "value": 3.5}, "value": 2}, "grid": false, "title": null, "zindex": 1}},
      "x2": {"datum": 220},
      "y": {"datum": 6.6e-9, "type": "quantitative", "scale": {"type": "log", "domain": [6.6e-9, 2.95e-7], "range": [211, 129], "nice": false}, "axis": {"orient": "left", "offset": -35, "values": [7e-9,8e-9,9e-9,1e-8,2e-8,3e-8,4e-8,5e-8,6e-8,7e-8,8e-8,9e-8,1e-7,2e-7], "labelExpr": "datum.value == 1e-7 ? '10⁻⁷' : datum.value == 1e-8 ? '10⁻⁸' : ''", "labelFontSize": 10, "labelOverlap": false, "labelFlush": false, "labelPadding": 1, "tickSize": {"condition": {"test": "datum.value == 1e-7 || datum.value == 1e-8", "value": 3.5}, "value": 2}, "grid": false, "title": null, "zindex": 1}},
      "y2": {"datum": 2.95e-7}}},
    {"data": {"name": "igx"}, "transform": [{"filter": {"field": "v", "range": [40, 220]}}], "mark": {"type": "rule", "color": "#e2e2e2", "strokeWidth": 0.8}, "encoding": {"x": {"field": "v", "type": "quantitative", "scale": {"type": "log"}}, "y": {"datum": 6.6e-9, "type": "quantitative", "scale": {"type": "log"}}, "y2": {"datum": 2.95e-7}}},
    {"data": {"name": "igy"}, "transform": [{"filter": {"field": "v", "range": [6.6e-9, 2.95e-7]}}], "mark": {"type": "rule", "color": "#e2e2e2", "strokeWidth": 0.8}, "encoding": {"y": {"field": "v", "type": "quantitative", "scale": {"type": "log"}}, "x": {"datum": 40, "type": "quantitative", "scale": {"type": "log"}}, "x2": {"datum": 220}}},
    {"data": {"name": "GN"}, "transform": [{"filter": {"and": [{"field": "x", "range": [40, 220]}, {"field": "y", "range": [6.6e-9, 2.95e-7]}]}}], "mark": {"type": "circle", "size": 24, "color": "black", "opacity": 0.45}, "encoding": {"x": {"field": "x", "type": "quantitative", "scale": {"type": "log"}}, "y": {"field": "y", "type": "quantitative", "scale": {"type": "log"}}}},
    {"data": {"name": "RAN"}, "transform": [{"filter": {"and": [{"field": "x", "range": [40, 220]}, {"field": "y", "range": [6.6e-9, 2.95e-7]}]}}], "mark": {"type": "circle", "size": 24, "color": "violet", "opacity": 0.5}, "encoding": {"x": {"field": "x", "type": "quantitative", "scale": {"type": "log"}}, "y": {"field": "y", "type": "quantitative", "scale": {"type": "log"}}}}
  ]}
 ]},
{"width": 238, "height": 236, "title": {"text": "PDF (C-S)", "offset": 12},
 "resolve": {"scale": {"x": "independent", "y": "independent"}, "axis": {"x": "independent", "y": "independent"}},
 "layer": [
  {"layer": [
    {"data": {"name": "GC"}, "mark": {"type": "circle", "size": 28, "opacity": 0.45}, "encoding": {
      "x": {"field": "x", "type": "quantitative", "scale": {"type": "log", "domain": [0.174, 275], "nice": false}, "axis": {"orient": "bottom", "values": [0.2,0.3,0.4,0.5,0.6,0.7,0.8,0.9,1,2,3,4,5,6,7,8,9,10,20,30,40,50,60,70,80,90,100,200], "labelExpr": "datum.value == 1 ? '10⁰' : datum.value == 10 ? '10¹' : datum.value == 100 ? '10²' : ''", "labelFontSize": 14, "labelOverlap": false, "labelFlush": false, "labelPadding": 1, "tickSize": {"condition": {"test": "datum.value == 1 || datum.value == 10 || datum.value == 100", "value": 3.5}, "value": 2}, "gridColor": {"condition": {"test": "datum.value == 1 || datum.value == 10 || datum.value == 100", "value": "#d4d4d4"}, "value": "#e6e6e6"}, "title": "precipitation [mm/h]", "titleFontSize": 15, "titlePadding": 1}},
      "y": {"field": "y", "type": "quantitative", "scale": {"type": "log", "domain": [1e-10, 5], "nice": false}, "axis": {"orient": "left", "values": [1,0.01,0.0001,1e-6,1e-8,1e-10], "labelExpr": "datum.value > 0.5 ? '10⁰' : datum.value > 0.005 ? '10⁻²' : datum.value > 5e-5 ? '10⁻⁴' : datum.value > 5e-7 ? '10⁻⁶' : datum.value > 5e-9 ? '10⁻⁸' : '10⁻¹⁰'", "labelFontSize": 14, "labelOverlap": false, "labelFlush": false, "labelPadding": 2, "tickSize": 3.5, "gridColor": "#dcdcdc", "title": "frequency", "titleFontSize": 15, "titlePadding": 3}},
      "color": {"datum": "GRIPHO", "type": "nominal", "scale": {"domain": ["GRIPHO", "GNN4CD R-all"], "range": ["black", "violet"]}, "legend": {"orient": "top-right", "title": null}}}},
    {"data": {"name": "RAC"}, "mark": {"type": "circle", "size": 28, "opacity": 0.5}, "encoding": {"x": {"field": "x", "type": "quantitative", "scale": {"type": "log"}}, "y": {"field": "y", "type": "quantitative", "scale": {"type": "log"}}, "color": {"datum": "GNN4CD R-all", "type": "nominal", "scale": {"domain": ["GRIPHO", "GNN4CD R-all"], "range": ["black", "violet"]}, "legend": {"orient": "top-right", "title": null}}}}
  ]},
  {"layer": [
    {"data": {"values": [{}]}, "mark": {"type": "rect", "fill": "white", "stroke": "#7a7a7a", "strokeWidth": 1}, "encoding": {
      "x": {"datum": 44, "type": "quantitative", "scale": {"type": "log", "domain": [44, 235], "range": [35, 119], "nice": false}, "axis": {"orient": "bottom", "offset": -25, "values": [50,60,70,80,90,100,200], "labelExpr": "datum.value == 100 ? '10²' : ''", "labelFontSize": 10, "labelOverlap": false, "labelFlush": false, "labelPadding": 1, "tickSize": {"condition": {"test": "datum.value == 100", "value": 3.5}, "value": 2}, "grid": false, "title": null, "zindex": 1}},
      "x2": {"datum": 235},
      "y": {"datum": 5.1e-9, "type": "quantitative", "scale": {"type": "log", "domain": [5.1e-9, 8.1e-8], "range": [211, 129], "nice": false}, "axis": {"orient": "left", "offset": -35, "values": [6e-9,7e-9,8e-9,9e-9,1e-8,2e-8,3e-8,4e-8,5e-8,6e-8,7e-8,8e-8], "labelExpr": "datum.value == 1e-7 ? '10⁻⁷' : datum.value == 1e-8 ? '10⁻⁸' : ''", "labelFontSize": 10, "labelOverlap": false, "labelFlush": false, "labelPadding": 1, "tickSize": {"condition": {"test": "datum.value == 1e-7 || datum.value == 1e-8", "value": 3.5}, "value": 2}, "grid": false, "title": null, "zindex": 1}},
      "y2": {"datum": 8.1e-8}}},
    {"data": {"name": "igx"}, "transform": [{"filter": {"field": "v", "range": [44, 235]}}], "mark": {"type": "rule", "color": "#e2e2e2", "strokeWidth": 0.8}, "encoding": {"x": {"field": "v", "type": "quantitative", "scale": {"type": "log"}}, "y": {"datum": 5.1e-9, "type": "quantitative", "scale": {"type": "log"}}, "y2": {"datum": 8.1e-8}}},
    {"data": {"name": "igy"}, "transform": [{"filter": {"field": "v", "range": [5.1e-9, 8.1e-8]}}], "mark": {"type": "rule", "color": "#e2e2e2", "strokeWidth": 0.8}, "encoding": {"y": {"field": "v", "type": "quantitative", "scale": {"type": "log"}}, "x": {"datum": 44, "type": "quantitative", "scale": {"type": "log"}}, "x2": {"datum": 235}}},
    {"data": {"name": "GC"}, "transform": [{"filter": {"and": [{"field": "x", "range": [44, 235]}, {"field": "y", "range": [5.1e-9, 8.1e-8]}]}}], "mark": {"type": "circle", "size": 24, "color": "black", "opacity": 0.45}, "encoding": {"x": {"field": "x", "type": "quantitative", "scale": {"type": "log"}}, "y": {"field": "y", "type": "quantitative", "scale": {"type": "log"}}}},
    {"data": {"name": "RAC"}, "transform": [{"filter": {"and": [{"field": "x", "range": [44, 235]}, {"field": "y", "range": [5.1e-9, 8.1e-8]}]}}], "mark": {"type": "circle", "size": 24, "color": "violet", "opacity": 0.5}, "encoding": {"x": {"field": "x", "type": "quantitative", "scale": {"type": "log"}}, "y": {"field": "y", "type": "quantitative", "scale": {"type": "log"}}}}
  ]}
 ]}
], "spacing": 69, "bounds": "flush", "resolve": {"scale": {"x": "independent", "y": "independent", "color": "independent"}, "axis": {"x": "independent", "y": "independent"}, "legend": {"color": "independent"}}}
], "spacing": 88, "bounds": "flush", "resolve": {"scale": {"x": "independent", "y": "independent", "color": "independent"}, "axis": {"x": "independent", "y": "independent"}, "legend": {"color": "independent"}}}
]
}
